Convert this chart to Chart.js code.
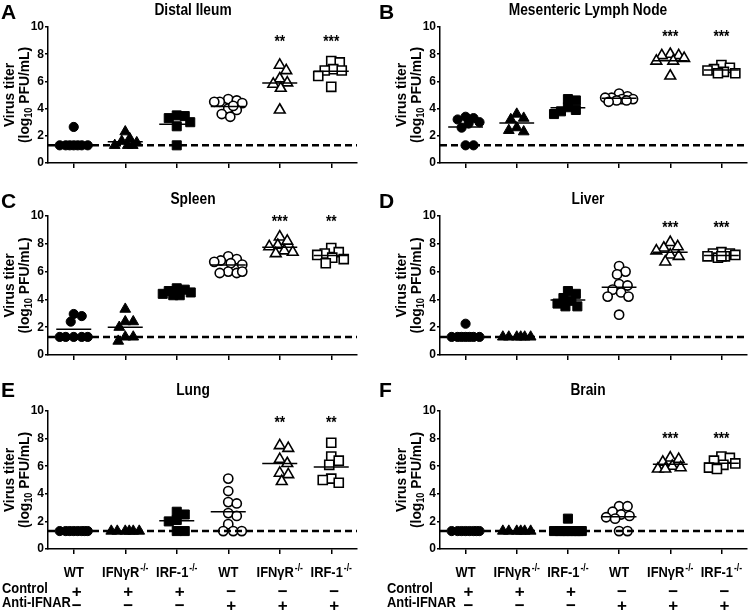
<!DOCTYPE html>
<html>
<head>
<meta charset="utf-8">
<script src="https://cdn.jsdelivr.net/npm/chart.js@4.4.0/dist/chart.umd.min.js"></script>
<style>
html, body { margin: 0; padding: 0; background: #fff; width: 750px; height: 614px; overflow: hidden; position: relative; }
canvas { position: absolute; }
</style>
</head>
<body>
<script>
// x groups
var genotypes = ['WT', 'IFN\u03b3R', 'IRF-1', 'WT', 'IFN\u03b3R', 'IRF-1'];
var knockout = [false, true, true, false, true, true];
var controlRow = ['+', '+', '+', '\u2212', '\u2212', '\u2212'];
var antiIfnarRow = ['\u2212', '\u2212', '\u2212', '+', '+', '+'];
var yTicks = [0, 2, 4, 6, 8, 10];
var detectionLimit = 1.3;

// virus titer, log10 PFU/mL, one list per group
var distalIleum = [
  [2.65, 1.3, 1.3, 1.3, 1.3, 1.3, 1.3, 1.3],
  [2.3, 1.8, 1.6, 1.5, 1.3, 1.3, 1.3],
  [3.5, 3.45, 3.3, 3.0, 2.7, 1.3],
  [4.7, 4.6, 4.5, 4.4, 4.5, 4.0, 3.9, 3.6, 3.4, 4.2],
  [7.2, 6.8, 6.2, 5.9, 5.8, 5.5, 3.9],
  [7.5, 7.4, 6.9, 6.8, 6.8, 6.4, 5.6]
];
var distalIleumMeans = [1.45, 1.56, 2.85, 4.16, 5.89, 6.74];
var distalIleumStars = ['', '', '', '', '**', '***'];

var mesentericLN = [
  [3.4, 3.3, 3.2, 3.0, 2.9, 2.6, 1.3, 1.3],
  [3.6, 3.3, 3.2, 2.6, 2.3, 2.4],
  [4.7, 4.6, 4.1, 3.9, 3.8, 3.6],
  [5.1, 4.9, 4.8, 4.8, 4.7, 4.7, 4.6, 4.6, 4.5],
  [8.0, 7.9, 7.9, 7.7, 7.5, 7.5, 6.4],
  [7.2, 7.0, 6.9, 6.8, 6.7, 6.6, 6.6]
];
var mesentericLNMeans = [2.65, 2.94, 4.06, 4.77, 7.52, 6.84];
var mesentericLNStars = ['', '', '', '', '***', '***'];

var spleen = [
  [2.95, 2.8, 2.4, 1.3, 1.3, 1.3, 1.3, 1.3],
  [3.3, 2.4, 2.4, 2.0, 1.3, 1.3, 1.0],
  [4.8, 4.7, 4.6, 4.5, 4.4, 4.3, 4.3],
  [7.1, 6.9, 6.8, 6.7, 6.6, 6.5, 6.0, 5.9, 5.9, 6.0],
  [8.5, 8.2, 7.9, 7.8, 7.5, 7.4, 7.3],
  [7.7, 7.4, 7.3, 7.2, 7.0, 6.9, 6.6]
];
var spleenMeans = [1.85, 1.99, 4.5, 6.47, 7.75, 7.15];
var spleenStars = ['', '', '', '', '***', '**'];

var liver = [
  [2.25, 1.3, 1.3, 1.3, 1.3, 1.3, 1.3, 1.3],
  [1.3, 1.3, 1.3, 1.3, 1.3, 1.3],
  [4.6, 4.4, 4.1, 3.9, 3.7, 3.5, 3.5],
  [6.4, 6.0, 5.8, 5.1, 5.0, 4.7, 4.5, 4.2, 4.2, 2.9],
  [8.1, 7.8, 7.7, 7.5, 7.2, 7.1, 6.7],
  [7.4, 7.3, 7.3, 7.2, 7.1, 7.1, 7.0, 7.1]
];
var liverMeans = [1.4, 1.3, 3.96, 4.87, 7.39, 7.15];
var liverStars = ['', '', '', '', '***', '***'];

var lung = [
  [1.3, 1.3, 1.3, 1.3, 1.3, 1.3, 1.3, 1.3],
  [1.3, 1.3, 1.3, 1.3, 1.3, 1.3],
  [2.7, 2.5, 2.1, 2.0, 1.3, 1.3],
  [5.1, 4.2, 3.4, 3.3, 2.6, 2.4, 1.8, 1.3, 1.3, 1.3],
  [7.5, 7.3, 6.5, 6.2, 5.5, 5.4, 4.9],
  [7.7, 6.7, 6.4, 6.1, 5.1, 4.8, 5.0]
];
var lungMeans = [1.3, 1.3, 2.05, 2.7, 6.2, 5.95];
var lungStars = ['', '', '', '', '**', '**'];

var brain = [
  [1.3, 1.3, 1.3, 1.3, 1.3, 1.3, 1.3, 1.3],
  [1.3, 1.3, 1.3, 1.3, 1.3, 1.3],
  [2.2, 1.3, 1.3, 1.3, 1.3, 1.3, 1.3, 1.3, 1.3],
  [3.1, 3.1, 2.7, 2.5, 2.4, 2.3, 2.2, 1.3, 1.3],
  [6.6, 6.5, 6.3, 6.0, 5.9, 5.8, 5.8],
  [6.7, 6.6, 6.4, 6.2, 6.1, 5.9, 5.8]
];
var brainMeans = [1.3, 1.3, 1.4, 2.34, 6.14, 6.22];
var brainStars = ['', '', '', '', '***', '***'];

var FONT = "'Liberation Sans', Arial, sans-serif";
var K = 0.86;          // horizontal squeeze to mimic the condensed face
var PX_X = 51.5, PX_Y = 13.8;

var panels = [
  {letter: 'A', title: 'Distal Ileum', vals: distalIleum, means: distalIleumMeans, stars: distalIleumStars, starY: 9.0, col: 0, row: 0},
  {letter: 'B', title: 'Mesenteric Lymph Node', vals: mesentericLN, means: mesentericLNMeans, stars: mesentericLNStars, starY: 9.4, col: 1, row: 0},
  {letter: 'C', title: 'Spleen', vals: spleen, means: spleenMeans, stars: spleenStars, starY: 9.7, col: 0, row: 1},
  {letter: 'D', title: 'Liver', vals: liver, means: liverMeans, stars: liverStars, starY: 9.25, col: 1, row: 1},
  {letter: 'E', title: 'Lung', vals: lung, means: lungMeans, stars: lungStars, starY: 9.2, col: 0, row: 2},
  {letter: 'F', title: 'Brain', vals: brain, means: brainMeans, stars: brainStars, starY: 8.1, col: 1, row: 2}
];
var rows = [
  {top: 0, h: 185, chartTop: 27, chartBottom: 163, letterY: 19, titleY: 11},
  {top: 185, h: 193, chartTop: 31, chartBottom: 170, letterY: 23, titleY: 15},
  {top: 378, h: 236, chartTop: 33, chartBottom: 171, letterY: 19, titleY: 13}
];
var cols = [
  {left: 0, w: 375, axisW: 48, padR: 18, letterX: 1, titleX: 193, ctrlX: 2},
  {left: 375, w: 380, axisW: 65, padR: 0, letterX: 4, titleX: 213, ctrlX: 12}
];

var styles = ['circle', 'triangle', 'rect', 'circle', 'triangle', 'rect'];
var radii = {circle: 4.6, triangle: 6.2, rect: 6.4};

// spread close values sideways, staying inside the group's band
function swarm(vals, d, half) {
  var placed = [];
  var cands = [];
  for (var k = 0; k <= half * 4; k++) cands.push((k % 2 ? 1 : -1) * Math.ceil(k / 2) * 0.5);
  return vals.map(function (v) {
    var y = v * PX_Y, best = 0, bestGap = -1;
    for (var c = 0; c < cands.length; c++) {
      var off = cands[c], gap = Infinity;
      placed.forEach(function (p) {
        var dx = p[0] - off, dy = p[1] - y;
        gap = Math.min(gap, Math.sqrt(dx * dx + dy * dy));
      });
      if (gap >= d) { best = off; bestGap = gap; break; }
      if (gap > bestGap + 0.01) { best = off; bestGap = gap; }
    }
    placed.push([best, y]);
    return best;
  });
}

function squeezed(ctx, text, x, y, k) {
  ctx.save();
  ctx.translate(x, y);
  ctx.scale(k || K, 1);
  ctx.fillText(text, 0, 0);
  ctx.restore();
}

function drawYTitle(ctx, x1, x2, cy) {
  var big = 'bold 15px ' + FONT, small = 'bold 10px ' + FONT, k = 0.92;
  ctx.save();
  ctx.fillStyle = '#000';
  ctx.textBaseline = 'middle';
  ctx.translate(x1, cy);
  ctx.rotate(-Math.PI / 2);
  ctx.textAlign = 'center';
  ctx.font = big;
  squeezed(ctx, 'Virus titer', 0, 0, k);
  ctx.restore();

  ctx.save();
  ctx.fillStyle = '#000';
  ctx.textBaseline = 'middle';
  ctx.translate(x2, cy);
  ctx.rotate(-Math.PI / 2);
  ctx.textAlign = 'left';
  ctx.font = big; var w1 = ctx.measureText('(log').width * k, w3 = ctx.measureText(' PFU/mL)').width * k;
  ctx.font = small; var w2 = ctx.measureText('10').width * k;
  var x = -(w1 + w2 + w3) / 2;
  ctx.font = big; squeezed(ctx, '(log', x, 0, k); x += w1;
  ctx.font = small; squeezed(ctx, '10', x, 4, k); x += w2;
  ctx.font = big; squeezed(ctx, ' PFU/mL)', x, 0, k);
  ctx.restore();
}

function drawPanelText(chart, p) {
  var ctx = chart.ctx, area = chart.chartArea;
  var xs = chart.scales.x, ys = chart.scales.y;
  var row = rows[p.row], col = cols[p.col];
  ctx.save();
  ctx.fillStyle = '#000';
  ctx.textBaseline = 'alphabetic';
  ctx.textAlign = 'left';
  ctx.font = 'bold 21px ' + FONT;
  ctx.fillText(p.letter, col.letterX, row.letterY);

  ctx.textAlign = 'center';
  ctx.textBaseline = 'middle';
  ctx.font = 'bold 16px ' + FONT;
  squeezed(ctx, p.title, col.titleX, row.titleY);

  ctx.font = 'bold 16px ' + FONT;
  p.stars.forEach(function (s, i) {
    if (s) squeezed(ctx, s, xs.getPixelForValue(i + 1), ys.getPixelForValue(p.starY) + 2);
  });
  ctx.restore();

  drawYTitle(ctx, area.left - 38, area.left - 23, (area.top + area.bottom) / 2);

  if (p.row === 2) {
    ctx.save();
    ctx.fillStyle = '#000';
    ctx.textBaseline = 'middle';
    var yName = 573 - row.top, yCtrl = 592 - row.top, yAnti = 606 - row.top;
    var big = 'bold 15px ' + FONT, small = 'bold 10px ' + FONT;
    genotypes.forEach(function (g, i) {
      var cx = xs.getPixelForValue(i + 1);
      ctx.font = big;
      var wn = ctx.measureText(g).width * K, ws = 0;
      if (knockout[i]) { ctx.font = small; ws = ctx.measureText('-/-').width * K + 1; }
      var x0 = cx - (wn + ws) / 2;
      ctx.textAlign = 'left';
      ctx.font = big;
      squeezed(ctx, g, x0, yName);
      if (knockout[i]) {
        ctx.font = small;
        squeezed(ctx, '-/-', x0 + wn + 1, yName - 5);
      }
      ctx.textAlign = 'center';
      ctx.font = 'bold 17px ' + FONT;
      ctx.fillText(controlRow[i], cx + 3, yCtrl);
      ctx.fillText(antiIfnarRow[i], cx + 3, yAnti);
    });
    ctx.textAlign = 'left';
    ctx.font = 'bold 15px ' + FONT;
    squeezed(ctx, 'Control', col.ctrlX, yCtrl - 3);
    squeezed(ctx, 'Anti-IFNAR', col.ctrlX, yAnti - 3);
    ctx.restore();
  }
}

panels.forEach(function (p) {
  var row = rows[p.row], col = cols[p.col];
  var canvas = document.createElement('canvas');
  canvas.width = col.w; canvas.height = row.h;
  canvas.style.left = col.left + 'px';
  canvas.style.top = row.top + 'px';
  canvas.style.width = col.w + 'px';
  canvas.style.height = row.h + 'px';
  document.body.appendChild(canvas);

  var datasets = [];
  p.vals.forEach(function (vals, i) {
    var style = styles[i], open = i >= 3;
    var offs = swarm(vals, open ? 8.5 : 8, 14);
    datasets.push({
      data: vals.map(function (v, k) { return {x: i + 1 + offs[k] / PX_X, y: v}; }),
      pointStyle: style,
      pointRadius: radii[style],
      backgroundColor: open ? '#fff' : '#000',
      borderColor: '#000',
      borderWidth: open ? 1.6 : 1,
      order: 3,
      clip: false
    });
  });
  p.means.forEach(function (m, i) {
    datasets.push({
      data: [{x: i + 1 - 0.34, y: m}, {x: i + 1 + 0.34, y: m}],
      showLine: true, pointRadius: 0, borderColor: '#000', borderWidth: 1.5, order: 2
    });
  });
  datasets.push({
    data: [{x: 0.5, y: detectionLimit}, {x: 6.5, y: detectionLimit}],
    showLine: true, pointRadius: 0, borderColor: '#000', borderWidth: 2.4,
    borderDash: [7, 4], order: 1
  });

  new Chart(canvas.getContext('2d'), {
    type: 'scatter',
    data: {datasets: datasets},
    options: {
      responsive: false,
      animation: false,
      devicePixelRatio: 1,
      events: [],
      layout: {padding: {top: row.chartTop, right: col.padR, bottom: 0, left: 0}},
      plugins: {legend: {display: false}, tooltip: {enabled: false}},
      scales: {
        x: {
          type: 'linear', min: 0.5, max: 6.5,
          afterBuildTicks: function (s) { s.ticks = genotypes.map(function (g, i) { return {value: i + 1}; }); },
          afterFit: function (s) { s.height = row.h - row.chartBottom; },
          ticks: {display: false},
          grid: {drawOnChartArea: false, drawTicks: true, tickLength: 5, color: '#000', lineWidth: 1.5},
          border: {display: true, color: '#000', width: 1.5}
        },
        y: {
          min: 0, max: 10,
          afterBuildTicks: function (s) { s.ticks = yTicks.map(function (v) { return {value: v}; }); },
          afterFit: function (s) { s.width = col.axisW; },
          ticks: {color: '#000', padding: 1, font: {family: FONT, size: 12, weight: 'bold'}},
          grid: {drawOnChartArea: false, drawTicks: true, tickLength: 3, color: '#000', lineWidth: 1.5},
          border: {display: true, color: '#000', width: 1.5}
        }
      }
    },
    plugins: [{id: 'panelText', afterDraw: function (c) { drawPanelText(c, p); }}]
  });
});
</script>
</body>
</html>
